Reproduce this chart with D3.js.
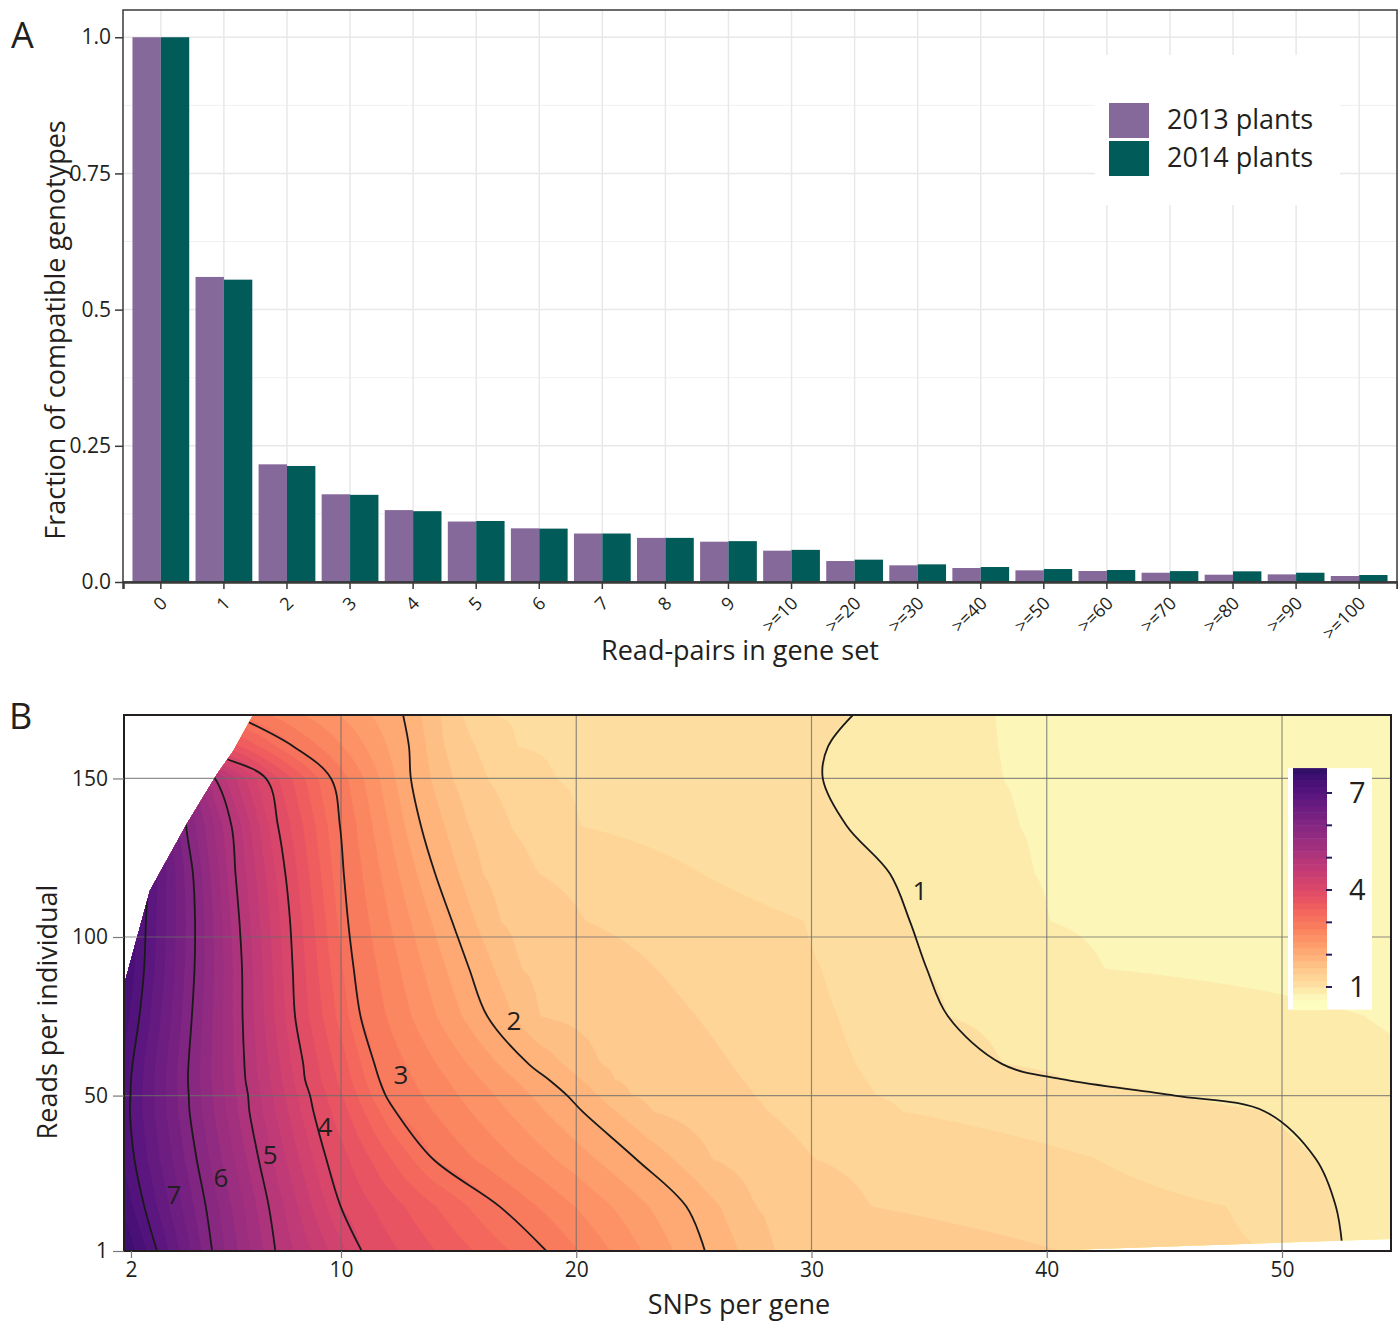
<!DOCTYPE html>
<html lang="en">
<head>
<meta charset="UTF-8">
<title>Compatible genotypes and SNP density</title>
<script src="https://d3js.org/d3.v7.min.js"></script>
<style>
  body { margin: 0; background: #fff; }
  svg text { font-family: "Open Sans", "Noto Sans", Arial, sans-serif; fill: #231f20; }
</style>
</head>
<body>
<svg id="fig" width="1398" height="1321"></svg>
<script>
// ---------- panel A data ----------
const readPairCats = ["0", "1", "2", "3", "4", "5", "6", "7", "8", "9",
  ">=10", ">=20", ">=30", ">=40", ">=50", ">=60", ">=70", ">=80", ">=90", ">=100"];
const plants2013 = [1.0, 0.560, 0.216, 0.161, 0.132, 0.111, 0.0985, 0.089, 0.081, 0.074,
  0.0575, 0.0385, 0.0306, 0.0257, 0.0214, 0.0202, 0.017, 0.0134, 0.014, 0.011];
const plants2014 = [1.0, 0.555, 0.213, 0.160, 0.130, 0.112, 0.098, 0.089, 0.081, 0.075,
  0.059, 0.041, 0.0324, 0.0275, 0.0238, 0.022, 0.020, 0.0196, 0.017, 0.0128];
const seriesNames = ["2013 plants", "2014 plants"];
const yTicksA = [0, 0.25, 0.5, 0.75, 1.0];
const yTickLabelsA = ["0.0", "0.25", "0.5", "0.75", "1.0"];
const yMinorA = [0.125, 0.375, 0.625, 0.875];

// ---------- panel B data ----------
// rows of "reads per individual"; for every row, the SNPs-per-gene value where each level is crossed
const readsRows = [1, 15, 30, 45, 50, 55, 60, 75, 90, 105, 120, 135, 150, 160, 170];
const leftEdgeZ = [7.61, 7.35, 7.18, 7.11, 7.12, 7.14, 7.17, 7.31, 7.42, 7.46, 7.5, 7.55, 7.6, 7.6, 7.6];
const level7X = [2.99, 2.51, 2.13, 1.96, 1.98, 2.0, 2.06, 2.32, 2.5, 2.57, 2.65, 2.7, 2.8, 2.6, 2.5];
const level6X = [5.09, 4.85, 4.50, 4.23, 4.2, 4.17, 4.19, 4.32, 4.42, 4.44, 4.36, 4.1, 4.0, 3.3, 3.2];
const level5X = [7.50, 7.25, 6.86, 6.51, 6.46, 6.36, 6.32, 6.25, 6.23, 6.13, 5.98, 5.83, 5.2, 3.9, 3.7];
const level4X = [10.88, 9.99, 9.44, 8.95, 8.82, 8.63, 8.56, 8.25, 8.16, 8.06, 7.88, 7.6, 7.14, 4.8, 4.5];
const level3X = [18.73, 16.75, 13.91, 12.32, 11.9, 11.63, 11.42, 10.83, 10.54, 10.3, 10.12, 9.96, 9.62, 8.2, 5.9];
const level2X = [25.47, 24.68, 22.54, 20.26, 19.62, 18.84, 17.97, 16.22, 15.45, 14.72, 14.0, 13.4, 12.97, 12.89, 12.64];
const level18X = [26.9, 26.1, 24.1, 21.7, 20.9, 20.2, 19.4, 17.3, 16.5, 15.7, 15.0, 14.4, 13.8, 13.6, 13.4];
const level16X = [28.36, 27.6, 25.77, 23.2, 22.3, 21.62, 21.0, 18.37, 17.6, 16.75, 16.0, 15.4, 14.72, 14.38, 14.21];
const level14X = [40.56, 32.5, 30.1, 28.15, 27.6, 27.08, 26.57, 25.09, 23.39, 20.37, 18.37, 17.2, 16.2, 15.69, 15.14];
const level12X = [49.14, 47.65, 42.09, 33.84, 32.7, 32.27, 31.87, 31.1, 30.42, 29.68, 25.3, 20.16, 19.09, 17.48, 16.25];
const level1X = [52.58, 52.29, 51.44, 49.27, 45.44, 40.77, 38.09, 35.8, 34.9, 34.18, 33.33, 31.5, 30.48, 30.70, 31.76];
const level08X = [null, null, null, null, null, null, null, 53.5, 42.43, 40.1, 39.45, 38.8, 38.1, 37.9, 37.75];
const rightEdgeZ = [0.93, 0.92, 0.9, 0.88, 0.86, 0.84, 0.82, 0.78, 0.72, 0.66, 0.62, 0.62, 0.62, 0.62, 0.62];
const crossLevels = [7, 6, 5, 4, 3, 2, 1.8, 1.6, 1.4, 1.2, 1, 0.8];
// outline of the area that holds data (white outside)
const hullSNP = [1.73, 1.73, 2.72, 4.13, 5.28, 5.89, 6.65, 54.63, 54.63, 39.6];
const hullReads = [1, 84.7, 114.6, 135.7, 151.4, 158.6, 170, 170, 4.8, 1];
// labels printed on the black contour lines
const labelLevels = [1, 2, 3, 4, 5, 6, 7];
const labelSNP = [34.61, 17.35, 12.55, 9.39, 7.30, 5.43, 3.64];
const labelReads = [114.6, 73.4, 56.4, 40.0, 31.2, 24.0, 18.6];
const xTicksB = [2, 10, 20, 30, 40, 50];
const yTicksB = [1, 50, 100, 150];
const legendTicksB = [1, 2, 3, 4, 5, 6, 7];
const legendLabelsB = [1, 4, 7];

const svg = d3.select("#fig");
const ink = "#231f20";

// ================= Panel A =================
const A = { left: 123, right: 1397, top: 10, bottom: 582 };
const xA = d3.scaleBand().domain(readPairCats).range([A.left, A.right])
  .paddingInner(0.1).paddingOuter(0.15);
const xSeries = d3.scaleBand().domain(seriesNames).range([0, xA.bandwidth()]);
const yA = d3.scaleLinear().domain([0, 1.05]).range([A.bottom, A.top]);
const colorA = d3.scaleOrdinal().domain(seriesNames).range(["#86699b", "#015b59"]);

const gA = svg.append("g");

gA.selectAll("line.minor").data(yMinorA).join("line")
  .attr("x1", A.left).attr("x2", A.right)
  .attr("y1", d => yA(d)).attr("y2", d => yA(d))
  .attr("stroke", "#f0f0f0").attr("stroke-width", 1);
gA.selectAll("line.majory").data(yTicksA).join("line")
  .attr("x1", A.left).attr("x2", A.right)
  .attr("y1", d => yA(d)).attr("y2", d => yA(d))
  .attr("stroke", "#e8e8e8").attr("stroke-width", 1.5);
gA.selectAll("line.majorx").data(readPairCats).join("line")
  .attr("x1", d => xA(d) + xA.bandwidth() / 2).attr("x2", d => xA(d) + xA.bandwidth() / 2)
  .attr("y1", A.top).attr("y2", A.bottom)
  .attr("stroke", "#e8e8e8").attr("stroke-width", 1.5);

const barRows = readPairCats.map((c, i) => ({ cat: c, values: [plants2013[i], plants2014[i]] }));
gA.selectAll("g.grp").data(barRows).join("g")
  .attr("transform", d => `translate(${xA(d.cat)},0)`)
  .selectAll("rect").data(d => seriesNames.map((s, k) => ({ s, v: d.values[k] }))).join("rect")
  .attr("x", d => xSeries(d.s))
  .attr("width", xSeries.bandwidth())
  .attr("y", d => yA(d.v))
  .attr("height", d => yA(0) - yA(d.v))
  .attr("fill", d => colorA(d.s));

// legend A
const legA = gA.append("g");
legA.append("rect").attr("x", 1095).attr("y", 55).attr("width", 245).attr("height", 150).attr("fill", "#fff");
seriesNames.forEach((s, i) => {
  legA.append("rect").attr("x", 1109).attr("y", 103 + i * 38).attr("width", 40).attr("height", 35)
    .attr("fill", colorA(s));
  legA.append("text").attr("x", 1167).attr("y", 120 + i * 38).attr("dy", "0.35em")
    .attr("font-size", 27).text(s);
});

// frame
gA.append("rect").attr("x", A.left).attr("y", A.top)
  .attr("width", A.right - A.left).attr("height", A.bottom - A.top)
  .attr("fill", "none").attr("stroke", "#3a3a3a").attr("stroke-width", 1.5);

const axYA = gA.append("g").attr("transform", `translate(${A.left},0)`)
  .call(d3.axisLeft(yA).tickValues(yTicksA).tickFormat((d, i) => yTickLabelsA[i]).tickSize(8).tickPadding(4));
axYA.select(".domain").remove();
axYA.selectAll("line").attr("stroke", "#3a3a3a").attr("stroke-width", 1.5);
axYA.selectAll("text").attr("font-size", 21).attr("fill", ink);

const axXA = gA.append("g").attr("transform", `translate(0,${A.bottom})`)
  .call(d3.axisBottom(xA).tickSize(7));
axXA.select(".domain").attr("stroke", "#3a3a3a").attr("stroke-width", 2.5);
axXA.selectAll("line").attr("stroke", "#3a3a3a").attr("stroke-width", 1.5);
axXA.selectAll("text")
  .attr("font-size", 18).attr("fill", "#555")
  .attr("text-anchor", "end").attr("dy", "0.35em").attr("y", 0)
  .attr("transform", "translate(3,18) rotate(-45)");

gA.append("text").attr("x", 740).attr("y", 651).attr("dy", "0.35em")
  .attr("text-anchor", "middle").attr("font-size", 27).text("Read-pairs in gene set");
gA.append("text").attr("transform", "translate(56,330) rotate(-90)").attr("dy", "0.35em")
  .attr("text-anchor", "middle").attr("font-size", 27).text("Fraction of compatible genotypes");
gA.append("text").attr("x", 11).attr("y", 48).attr("font-size", 36).text("A");

// ================= Panel B =================
const B = { left: 124, right: 1391, top: 715, bottom: 1251 };
const xB = d3.scaleLinear().domain([2, 10, 50]).range([131, 341, 1282]);
const yB = d3.scaleLinear().domain([1, 170]).range([1251, 715]);
const tB = d3.scaleLinear().domain([0.6, 1, 4, 7, 7.8]).range([1.0, 0.945, 0.6, 0.27, 0.17]).clamp(true);
const fillB = v => d3.interpolateMagma(tB(v));

// grid table for d3.contours, built row by row from the crossing positions above
const crossings = [level7X, level6X, level5X, level4X, level3X, level2X,
  level18X, level16X, level14X, level12X, level1X, level08X];
const nCols = 220;
const colX = d3.scaleLinear().domain([0, nCols - 1]).range([1.7, 55]).clamp(true);
const rowY = d3.scaleLinear().domain(d3.range(readsRows.length)).range(readsRows).clamp(true);
const zGrid = [];
readsRows.forEach((r, j) => {
  const xs = [1.7], zs = [leftEdgeZ[j]];
  crossings.forEach((arr, k) => {
    if (arr[j] != null) { xs.push(arr[j]); zs.push(crossLevels[k]); }
  });
  xs.push(55); zs.push(rightEdgeZ[j]);
  const rowScale = d3.scaleLinear().domain(xs).range(zs);
  for (let i = 0; i < nCols; i++) zGrid.push(rowScale(colX(i)));
});

const bandThresholds = d3.range(1, 40).map(k => k / 5);
const contours = d3.contours().size([nCols, readsRows.length]).thresholds(bandThresholds)(zGrid);
const proj = d3.geoTransform({
  point(x, y) { this.stream.point(xB(colX(x - 0.5)), yB(rowY(y - 0.5))); }
});
const geo = d3.geoPath(proj);

const defs = svg.append("defs");
defs.append("clipPath").attr("id", "clipB").append("rect")
  .attr("x", B.left).attr("y", B.top).attr("width", B.right - B.left).attr("height", B.bottom - B.top);
const hullPts = hullSNP.map((x, i) => [xB(x), yB(hullReads[i])]);
defs.append("clipPath").attr("id", "hullB").append("path")
  .attr("d", d3.line()(hullPts) + "Z");

const gB = svg.append("g");
gB.append("g").attr("clip-path", "url(#hullB)")
  .selectAll("path").data(contours).join("path")
  .attr("d", geo)
  .attr("fill", d => fillB(d.value + 0.1))
  .attr("stroke", d => fillB(d.value + 0.1)).attr("stroke-width", 0.5);

// grid lines on top of the fill
const gridB = gB.append("g").attr("clip-path", "url(#clipB)");
gridB.selectAll("line.v").data(xTicksB.slice(1)).join("line")
  .attr("x1", d => xB(d)).attr("x2", d => xB(d)).attr("y1", B.top).attr("y2", B.bottom)
  .attr("stroke", "#6b6b6b").attr("stroke-opacity", 0.75).attr("stroke-width", 1.2);
gridB.selectAll("line.h").data(yTicksB.slice(1)).join("line")
  .attr("x1", B.left).attr("x2", B.right).attr("y1", d => yB(d)).attr("y2", d => yB(d))
  .attr("stroke", "#6b6b6b").attr("stroke-opacity", 0.75).attr("stroke-width", 1.2);

// black contour lines
const levelLines = [level1X, level2X, level3X, level4X, level5X, level6X, level7X];
const isoLine = d3.line().x(d => xB(d[0])).y(d => yB(d[1])).curve(d3.curveCatmullRom.alpha(0.5));
gB.append("g").attr("clip-path", "url(#hullB)")
  .selectAll("path").data(levelLines).join("path")
  .attr("d", arr => isoLine(arr.map((x, j) => [x, readsRows[j]])))
  .attr("fill", "none").attr("stroke", "#1a1a1a").attr("stroke-width", 1.8);

gB.selectAll("text.lvl").data(labelLevels).join("text")
  .attr("x", (d, i) => xB(labelSNP[i])).attr("y", (d, i) => yB(labelReads[i]))
  .attr("dy", "0.35em").attr("text-anchor", "middle").attr("font-size", 26)
  .text(d => d);

// colour legend
const yLeg = d3.scaleLinear().domain([1, 7]).range([987, 793]);
const legRange = [0.3, 7.77];
const legB = gB.append("g");
legB.append("rect").attr("x", 1288).attr("y", yLeg(legRange[1])).attr("width", 84)
  .attr("height", yLeg(legRange[0]) - yLeg(legRange[1])).attr("fill", "#fff");
legB.selectAll("rect.band").data(d3.range(1, 39).map(k => k / 5)).join("rect")
  .attr("x", 1293).attr("width", 34)
  .attr("y", d => yLeg(Math.min(d + 0.2, legRange[1])))
  .attr("height", d => yLeg(Math.max(d, legRange[0])) - yLeg(Math.min(d + 0.2, legRange[1])) + 0.5)
  .attr("fill", d => fillB(d + 0.1));
legB.selectAll("line.tk").data(legendTicksB).join("line")
  .attr("x1", 1326).attr("x2", 1332).attr("y1", d => yLeg(d)).attr("y2", d => yLeg(d))
  .attr("stroke", "#2b1d5c").attr("stroke-width", 2);
legB.selectAll("text.lb").data(legendLabelsB).join("text")
  .attr("x", 1349).attr("y", d => yLeg(d)).attr("dy", "0.36em")
  .attr("font-size", 29).text(d => d);

// frame and axes
gB.append("rect").attr("x", B.left).attr("y", B.top)
  .attr("width", B.right - B.left).attr("height", B.bottom - B.top)
  .attr("fill", "none").attr("stroke", "#231f20").attr("stroke-width", 2);

const axXB = gB.append("g").attr("transform", `translate(0,${B.bottom})`)
  .call(d3.axisBottom(xB).tickValues(xTicksB).tickFormat(d3.format("d")).tickSize(7).tickPadding(4));
axXB.select(".domain").remove();
axXB.selectAll("line").attr("stroke", "#7a7a7a").attr("stroke-width", 1.2);
axXB.selectAll("text").attr("font-size", 21).attr("fill", ink);

const axYB = gB.append("g").attr("transform", `translate(${B.left},0)`)
  .call(d3.axisLeft(yB).tickValues(yTicksB).tickFormat(d3.format("d")).tickSize(11).tickPadding(5));
axYB.select(".domain").remove();
axYB.selectAll("line").attr("stroke", "#7a7a7a").attr("stroke-width", 1.2);
axYB.selectAll("text").attr("font-size", 21).attr("fill", ink);

gB.append("text").attr("x", 739).attr("y", 1305).attr("dy", "0.35em")
  .attr("text-anchor", "middle").attr("font-size", 27).text("SNPs per gene");
gB.append("text").attr("transform", "translate(48,1012) rotate(-90)").attr("dy", "0.35em")
  .attr("text-anchor", "middle").attr("font-size", 27).text("Reads per individual");
gB.append("text").attr("x", 9).attr("y", 729).attr("font-size", 36).text("B");
</script>
</body>
</html>
